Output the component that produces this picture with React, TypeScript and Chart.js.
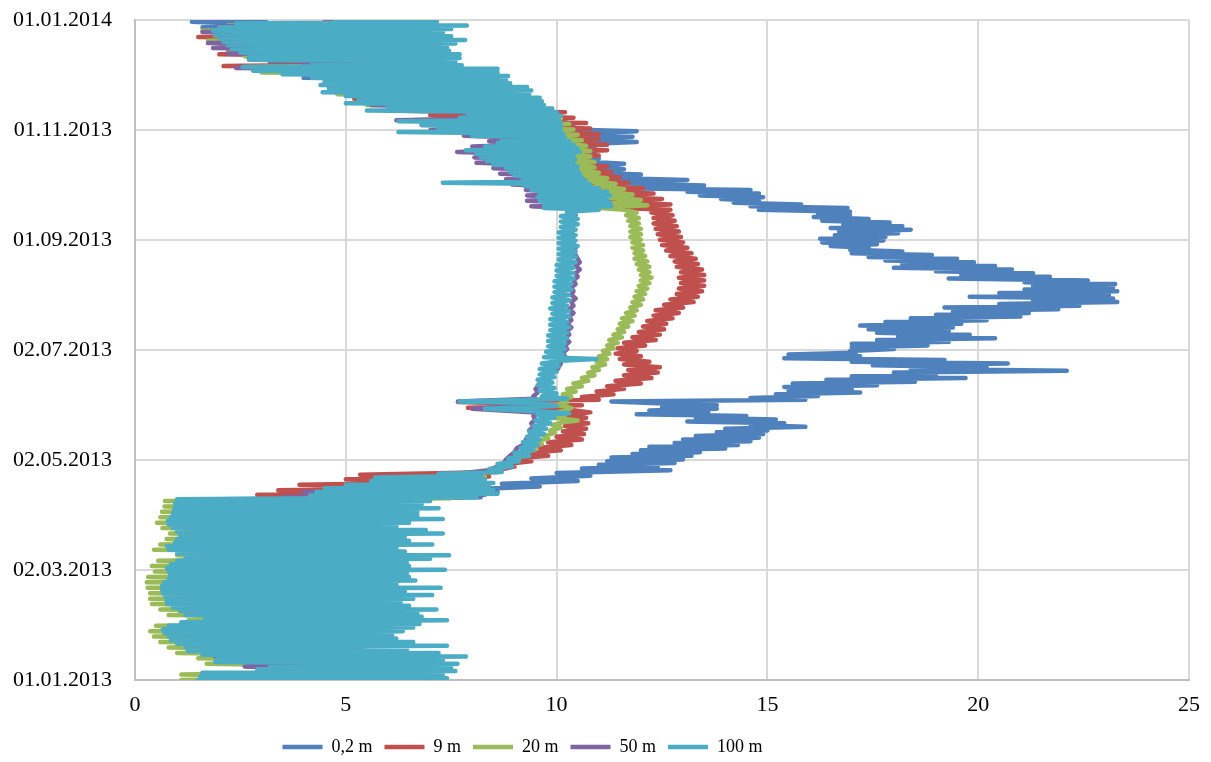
import React, { useEffect, useRef } from 'react';
import { Chart, registerables } from 'chart.js';

Chart.register(...registerables);

const seriesLabels = ['0,2 m', '9 m', '20 m', '50 m', '100 m'];
const seriesColors = ['#4F81BD', '#C0504D', '#9BBB59', '#8064A2', '#4BACC6'];
const dateTickDays = [0, 60.83, 121.67, 182.5, 243.33, 304.17, 365];
const dateTickLabels = ['01.01.2013', '02.03.2013', '02.05.2013', '02.07.2013', '01.09.2013', '01.11.2013', '01.01.2014'];
const tempMin = 0;
const tempMax = 25;
const tempStep = 5;

// [day since 01.01.2013, temperature °C]
const t02m: [number, number][] = [
  [0,2.0],[3,5.8],[6,3.5],[9,5.8],[12,2.2],[15,5.6],[18,1.8],[21,5.5],[24,1.5],[27,5.5],[30,1.5],[33,5.6],[36,1.6],[39,5.5],[42,1.5],[45,5.6],[48,1.4],[51,5.7],[54,1.4],[57,5.6],[60,1.5],[63,5.5],[66,1.6],[69,5.6],[72,1.6],[75,5.5],[78,1.5],[81,5.6],[84,1.5],[87,5.5],[90,1.6],[93,5.6],[96,1.7],[99,6.0],[100,2.0],
  [101,8.2],[102.5,7.0],[104,8.6],[105.5,8.0],[107,9.6],[108.5,8.7],[110,10.5],[111.5,9.4],[113,10.8],[114.5,10.0],[116,12.7],[117,10.6],[118,12.4],[119,11.0],[120,12.8],[121,11.2],[122,13.0],[123,11.3],[124,13.2],[125,11.8],[126,13.4],[127,12.0],[128,14.0],[129,12.2],[130,14.3],[131,12.8],[132,14.6],[133,13.0],[134,14.8],[135,13.3],[136,14.9],[137,13.8],[138,15.0],[139,14.0],[140,15.9],[141,14.6],[142,15.4],[143,13.1],[144,15.2],[145,13.3],[146,14.5],[147,11.9],[148,13.6],[149,12.2],[150,13.8],[151,12.5],[152,13.8],[153,12.4],[154,11.3],
  [155,15.9],[156,14.6],[157,16.2],[158,15.2],[159,17.2],[160,15.5],[161,17.0],[162,15.4],[163,17.6],[164,15.6],[165,18.5],[166,16.4],[167,19.7],[168,17.0],[169,19.0],[170,18.0],[171,22.1],[172,18.4],[173,20.2],[174,17.5],[175,20.7],[176,17.0],[177,19.2],[178,15.4],[179,17.2],[180,15.5],[181,17.1],[182,16.96],[183,18.0],[184,17.0],[185,18.8],[186,17.0],[187,19.3],[188,17.6],[189,20.4],[190,18.1],[191,19.8],[192,17.6],[193,19.3],[194,17.4],[195,19.4],[196,17.2],[197,19.6],[198,17.8],[199,20.2],[200,18.4],[201,21.0],[202,19.0],[203,21.2],[204,19.4],[205,21.9],[206,19.2],[207,22.4],[208,20.5],[209,23.3],[210,21.3],[211,23.2],[212,19.8],[213,23.1],[214,20.5],[215,23.3],[216,21.1],[217,23.2],[218,21.3],[219,23.25],[220,21.1],[221,22.6],[222,19.3],[223,21.7],[224,19.6],[225,21.3],[226,19.0],[227,20.8],[228,18.0],[229,20.4],[230,18.2],[231,19.9],[232,17.8],[233,19.5],[234,17.4],[235,18.9],[236,17.0],[237,18.2],[238,16.96],[239,17.4],[240,16.5],[241,17.6],[242,16.3],[243,17.75],[244,16.25],[245,17.8],[246,16.6],[247,18.1],[248,16.7],[249,18.4],[250,16.5],[251,18.2],[252,16.8],[253,17.9],[254,16.3],[255,17.4],[256,16.1],[257,16.96],[258,16.2],[259,16.96],[260,14.8],[261,16.9],[262,14.6],[263,15.8],[264,14.2],[265,14.8],[266,13.9],[267,14.9],
  [268,13.4],[269,14.8],[270,13.1],[271,14.6],[272,11.5],[273.5,13.5],[275,11.1],[276.5,13.1],[278,10.6],[279.5,12.0],[281,10.25],[282.5,11.6],[284,11.0],[285.5,11.6],[287,10.4],[288.5,11.0],[290,10.3],[291.5,10.9],[293,10.3],[294.5,10.9],[296,10.2],[297.5,11.9],[299,10.6],[300.5,11.8],[302,10.4],[303.5,11.9],
  [305,9.3],[306.5,10.4],[308,8.0],[309.5,10.2],[311,7.8],[313,9.8],[315,7.0],[317,9.4],[319,6.0],[321,9.2],[323,5.8],[325,9.0],[327,5.0],[329,8.8],[331,4.8],[332,8.5],[333,4.0],[335,8.3],[337,3.4],[339,7.4],[341.5,3.2],[343,7.2],[345,2.8],[347,7.0],[349,2.4],[351,7.0],[353,2.2],[355,7.0],[357,2.0],[359,6.8],[361,1.6],[362.5,3.0],[364,1.35],[365,3.1],
];

const t9m: [number, number][] = [
  [0,1.6],[2.5,6.0],[5,3.0],[6.5,5.5],[7.5,2.65],[9.5,6.2],[12,2.0],[15,5.8],[18,1.6],[21,5.6],[24,1.3],[27,5.6],[30,1.3],[33,5.8],[36,1.4],[39,5.6],[42,1.3],[45,5.7],[48,1.2],[51,5.8],[54,1.2],[57,5.6],[60,1.3],[63,5.6],[66,1.4],[69,5.8],[72,1.3],[75,5.6],[78,1.3],[81,5.7],[84,1.3],[87,5.6],[90,1.3],[93,5.6],[96,1.4],[99,6.0],[100,1.6],
  [101,7.8],[102.5,2.9],[104,8.3],[105,3.4],[106.5,8.4],[108,3.9],[109.5,8.3],[111,5.0],[112.5,8.4],[113.5,5.34],
  [115,8.6],[116.5,8.7],[118,9.0],[119.5,8.8],[121,9.4],[122.5,9.0],[124,9.8],[125.5,9.3],[127,10.1],[128.5,9.6],[130,10.35],[131.5,9.8],[133,10.6],[134.5,10.0],[136,10.65],[137.5,10.15],[139,10.7],[140.5,10.2],[142,10.75],[143.5,10.15],[145,10.7],[146.5,10.2],[148,10.8],[149.5,10.3],[150.5,7.9],[152,10.6],[153.8,7.66],[155,11.0],[156.5,10.6],[158,11.35],[159.5,10.95],[161,11.6],[162.5,11.2],[164,12.0],[165.5,11.4],[167,12.25],[168.5,11.6],[170,12.4],[171.5,11.7],[173,12.45],[174.5,11.6],[176,12.2],[177.5,11.5],[179,12.0],[180.5,11.4],[182,11.9],[183.5,11.45],[185,12.1],[186.5,11.6],[188,12.35],[189.5,11.8],[191,12.45],[192.5,11.95],[194,12.55],[195.5,12.05],[197,12.6],[198.5,12.15],[200,12.75],[201.5,12.3],[203,12.9],[204.5,12.35],[206,13.0],[207.5,12.55],[209,13.25],[210.5,12.7],[212,13.35],[213.5,12.85],[215,13.45],[216.5,12.9],[218,13.5],[219.5,12.95],[221,13.5],[222.5,12.9],[224,13.5],[225.5,12.95],[227,13.45],[228.5,12.85],[230,13.35],[231.5,12.8],[233,13.3],[234.5,12.7],[236,13.2],[237.5,12.6],[239,13.1],[240.5,12.5],[242,13.0],[243.5,12.45],[245,12.95],[246.5,12.4],[248,12.9],[249.5,12.35],[251,12.85],[252.5,12.3],[254,12.8],[255.5,12.3],[257,12.75],[258.5,12.25],[260,12.7],
  [261.5,10.9],[263,12.7],[264.5,11.2],[266,12.5],[267.5,11.0],[269,12.3],[270.5,10.8],[272,12.05],[273.5,10.5],[275,11.7],[276.5,10.4],[278,11.5],[279.5,10.2],[281,11.3],[282.5,10.0],[284,11.2],[285.5,9.8],[287,10.8],[288.5,9.6],[290,11.0],[291.5,9.5],[293,11.2],[294.5,9.3],[296,11.2],[297.5,9.0],[299,11.0],[300.5,8.8],[302,11.0],[303.5,8.0],[305,10.8],[306.5,7.5],[308,10.7],[309.5,6.5],[311,10.4],[312.5,7.0],[314,10.2],[315.5,6.0],[317,9.6],[318.5,5.6],[320,9.4],[321.5,5.2],[323,9.2],[324.5,5.0],[326,9.0],[327.5,4.6],[329,8.8],[330.5,4.5],[332,8.6],[333.5,4.3],[335,8.4],[336.5,3.0],[338,7.6],[339.5,2.1],[341,7.5],[342,4.0],[344,7.4],[346,2.0],[347.5,7.2],[349,2.3],[350.5,7.2],[352,2.2],[353.5,7.1],[355.6,1.5],[357,7.0],[358.5,2.0],[360,7.0],[361.5,2.3],[363,6.8],[365,4.5],
];

const t20m: [number, number][] = [
  [0,1.1],[1.5,5.5],[3,1.1],[4.5,5.5],[6,2.9],[7.5,5.6],[9,1.7],[10.5,5.6],[12,1.5],[13.5,5.5],[15,1.0],[16.5,5.4],[18,0.8],[19.5,5.4],[21,0.6],[22.5,5.3],[24,0.45],[25.5,5.3],[27,0.36],[28.5,5.3],[30,0.5],[31.5,5.5],[33,1.27],[34.5,5.5],[36,0.8],[37.5,5.4],[39,0.6],[40.5,5.3],[42,0.4],[43.5,5.3],[45,0.36],[46.5,5.3],[48,0.36],[49.5,5.4],[51,0.3],[52.5,5.3],[54,0.28],[55.5,5.3],[57,0.31],[58.5,5.3],[60,0.47],[61.5,5.4],[63,0.4],[64.5,5.3],[66,0.55],[67.5,5.4],[69,1.0],[70.5,5.4],[72,0.45],[73.5,5.3],[75,0.6],[76.5,5.3],[78,0.75],[79.5,5.4],[81,0.83],[82.5,5.4],[84,0.65],[85.5,5.3],[87,0.52],[88.5,5.4],[90,0.6],[91.5,5.4],[93,0.64],[94.5,5.4],[96,0.7],[97.5,5.5],[99,0.71],
  [100.5,7.5],[102,4.8],[103.5,8.4],[105,5.0],[106.5,8.3],[108,6.0],[109.5,8.2],[111,6.5],[112.5,8.3],[114,7.6],
  [115.5,8.55],[117,8.45],[118.5,8.85],[120,8.8],[121.5,9.1],[123,9.05],[124.5,9.3],[126,9.25],[127.5,9.5],[129,9.4],[130.5,9.65],[132,9.5],[133.5,9.8],[135,9.7],[136.5,9.95],[138,9.85],[139.5,10.1],[141,9.9],[142.5,10.15],[143.5,10.5],[145,9.95],[146.5,10.2],[148,10.0],[149.5,10.25],[150.5,10.35],[152,10.0],[153.5,10.25],[155,10.1],[156.5,10.35],[158,10.15],[159.5,10.45],[161,10.25],[162.5,10.6],[164,10.4],[165.5,10.75],[167,10.6],[168.5,10.9],[170,10.75],[171.5,11.0],[173,10.85],[174.5,11.15],[176,10.95],[177.5,11.2],[179,11.0],[180.5,11.25],[182,11.1],[183.5,11.35],[185,11.2],[186.5,11.45],[188,11.25],[189.5,11.55],[191,11.35],[192.5,11.6],[194,11.45],[195.5,11.7],[197,11.5],[198.5,11.8],[200,11.55],[201.5,11.85],[203,11.65],[204.5,11.9],[206,11.75],[207.5,12.0],[209,11.8],[210.5,12.05],[212,11.85],[213.5,12.1],[215,11.9],[216.5,12.15],[218,11.95],[219.5,12.2],[221,12.0],[222.5,12.25],[224,12.0],[225.5,12.2],[227,11.95],[228.5,12.2],[230,11.9],[231.5,12.15],[233,11.85],[234.5,12.1],[236,11.85],[237.5,12.05],[239,11.8],[240.5,12.05],[242,11.8],[243.5,12.0],[245,11.75],[246.5,12.0],[248,11.75],[249.5,12.0],[251,11.75],[252.5,11.95],[254,11.7],[255.5,11.95],[257,11.65],[258.5,11.9],[260,11.6],
  [261,11.0],[262.5,12.15],[264,11.3],[265.5,12.0],[267,11.2],[268.5,11.8],[270,11.0],[271.5,11.6],[273,10.9],[274.5,11.4],[276,10.7],[277.5,11.2],[279,10.5],[280.5,11.0],[282,10.4],[283.5,10.9],[285,10.3],[286.5,10.9],[288,10.2],[289.5,10.8],[291,10.1],[292.5,10.8],[294,10.0],[295.5,10.7],[297,9.8],[298.5,10.6],[300,9.5],[301.5,10.5],[303,8.5],[304.5,10.4],[306,7.5],[307.5,10.3],[309,7.0],[310.5,10.1],[312,7.8],[313.5,9.9],[315,6.0],[316.5,9.6],[318,5.5],[319.5,9.4],[321,5.5],[322.5,9.2],[324,4.8],[325.5,9.0],[327,4.8],[328.5,8.9],[330,4.6],[331.5,8.6],[333,4.4],[334.5,8.4],[336,3.0],[337.5,8.0],[339,2.6],[340.5,7.3],[342,4.1],[343.5,7.2],[345,2.6],[346.5,7.2],[348,2.2],[349.5,7.0],[351,2.0],[352.5,7.2],[353.5,1.73],[355,7.3],[356.5,1.9],[358,7.0],[359,1.6],[360.5,7.2],[362,2.2],[363.5,6.8],[365,5.0],
];

const t50m: [number, number][] = [
  [0,1.6],[1.5,5.8],[3,2.0],[6,5.6],[7.5,2.6],[10,5.8],[13,1.9],[16,5.5],[19,1.4],[22,5.4],[25,1.1],[28,5.5],[31,1.1],[34,5.6],[37,1.3],[40,5.5],[43,1.1],[46,5.4],[49,1.0],[52,5.6],[55,1.0],[58,5.4],[61,1.1],[64,5.5],[67,1.3],[70,5.6],[73,1.1],[76,5.5],[79,1.2],[82,5.6],[85,1.1],[88,5.5],[91,1.2],[94,5.6],[97,1.2],[100,6.0],
  [101,3.5],[102.5,8.3],[104,4.0],[105.5,8.2],[107,5.2],[108.5,8.3],[110,6.0],[111.5,8.1],[113,8.2],[114.5,7.8],[116,8.4],[118,8.6],[120,8.75],[122,8.8],[124,8.9],[126,9.0],[128,9.05],[130,9.2],[132,9.25],[134,9.3],[136,9.4],[138,9.35],[140,9.45],[142,9.4],[144,9.5],[146,9.45],[148,9.5],[150,8.0],[151.5,9.5],[153,9.4],[154,7.66],[155.5,9.5],[157,9.45],[159,9.55],[161,9.5],[163,9.6],[165,9.6],[167,9.75],[169,9.85],[171,10.0],[173,10.05],[175,10.1],[177,10.1],[179,10.2],[181,10.15],[183,10.25],[185,10.2],[187,10.3],[189,10.2],[191,10.3],[193,10.25],[195,10.35],[197,10.25],[199,10.35],[201,10.3],[203,10.4],[205,10.3],[207,10.4],[209,10.35],[211,10.45],[213,10.35],[215,10.4],[217,10.35],[219,10.45],[221,10.4],[223,10.5],[225,10.45],[227,10.55],[229,10.45],[231,10.55],[233,10.5],[235,10.45],[237,10.4],[239,10.45],[241,10.4],[243,10.35],[245,10.4],[247,10.35],[249,10.4],[251,10.35],[253,10.4],[255,10.35],[257,10.45],[259,10.35],
  [260.5,10.6],[262,9.4],[263.5,10.8],[265,9.3],[266.5,10.8],[268,9.3],[269.5,10.8],[271,9.27],[272.5,10.6],[274,8.95],[275.5,10.4],[277,8.8],[278.5,10.3],[280,8.66],[281.5,10.2],[283,8.5],[284.5,10.1],[286,8.1],[287.5,10.1],[289,8.05],[290.5,10.0],[292,7.64],[293.5,10.0],[295,8.0],[296.5,9.9],[298,8.4],[299.5,9.8],[301,7.8],[302.5,9.8],[304,7.0],[305.5,9.6],[307,6.8],[308.5,9.5],[309.5,6.2],[311,9.5],[312,7.8],[313.5,9.4],[315,6.0],[316.5,9.2],[318,5.6],[319.5,9.0],[321,5.6],[322.5,8.9],[324,5.0],[325.5,8.8],[327,4.9],[328.5,8.7],[330,4.7],[331.5,8.4],[333,4.5],[334.5,8.2],[336,3.6],[337.5,8.0],[338.5,2.4],[340,7.3],[341,4.0],[342.5,7.2],[344,2.7],[345.5,7.2],[346.5,2.2],[348,7.0],[349.5,1.85],[351,7.0],[352.3,1.73],[354,7.2],[355.5,2.0],[357,7.0],[358.4,1.6],[360,7.1],[361.5,2.0],[363,6.8],[364,4.67],[365,6.5],
];

const t100m: [number, number][] = [
  [0,1.5],[1,7.4],[2,1.55],[3,7.3],[4,1.6],[5,7.6],[6,2.9],[7,7.5],[8,3.2],[9,7.65],[10,1.9],[11,7.3],[12,1.95],[13,7.85],[14,1.6],[15,7.2],[16,1.25],[17,6.45],[18,1.2],[19,7.4],[20,1.0],[21,6.6],[22,0.85],[23,6.2],[24,0.8],[25,6.1],[26,0.7],[27,6.35],[28,0.66],[29,6.6],[30,0.8],[31,6.75],[32,1.1],[33,7.4],[34,1.66],[35,6.8],[36,1.2],[37,6.7],[38,1.07],[39,7.15],[40,0.9],[41,6.5],[42,0.76],[43,6.3],[44,0.75],[45,6.6],[46,0.72],[47,7.05],[48,0.66],[49,6.4],[50,0.64],[51,7.25],[52,0.64],[53,6.2],[54,0.7],[55,6.65],[56,0.8],[57,6.5],[58,0.83],[59,6.45],[60,0.8],[61,7.35],[62,0.76],[63,6.5],[64,0.85],[65,6.45],[66,1.0],[67,7.0],[68,1.2],[69,7.45],[70,1.0],[71,6.4],[72,0.8],[73,6.2],[74,0.76],[75,7.05],[76,0.95],[77,6.5],[78,1.0],[79,6.4],[80,1.07],[81,7.3],[82,1.0],[83,6.9],[84,0.9],[85,6.2],[86,0.8],[87,6.5],[88,0.78],[89,7.3],[90,0.85],[91,6.7],[92,0.9],[93,6.7],[94,0.92],[95,7.2],[96,0.95],[97,6.8],[98,0.95],[99,7.0],[100,1.0],
  [101,8.1],[102,4.15],[103,8.6],[104,4.3],[105,8.5],[106,4.5],[107,8.4],[108,5.0],[109,8.5],[110,5.6],[111,8.3],[112,5.7],[113,8.2],[114,7.2],
  [115,8.7],[116.5,8.4],[118,8.95],[119.5,8.6],[121,9.1],[122.5,8.85],[124,9.35],[125.5,9.0],[127,9.45],[128.5,9.15],[130,9.55],[131.5,9.2],[133,9.6],[134.5,9.3],[136,9.7],[137.5,9.35],[139,9.75],[140.5,9.45],[142,9.85],[143.5,9.5],[145,9.95],[146.5,9.55],[147.5,10.3],[148.5,9.6],[150,8.3],[151.5,10.0],[153,9.6],[154,7.7],[155.5,10.25],[157,9.65],[158.5,10.0],[160,9.6],[161.5,9.95],[163,9.55],[164.5,9.9],[166,9.55],[167.5,9.95],[169,9.6],[170.5,10.0],[172,9.6],[173.5,10.05],[175,9.65],[176.5,10.1],[177.5,10.95],[178.5,9.7],[180,10.15],[181.5,9.75],[183,10.2],[184.5,9.8],[186,10.2],[187.5,9.8],[189,10.25],[190.5,9.8],[192,10.25],[193.5,9.85],[195,10.3],[196.5,9.85],[198,10.25],[199.5,9.85],[201,10.3],[202.5,9.9],[204,10.3],[205.5,9.85],[207,10.25],[208.5,9.9],[210,10.3],[211.5,9.9],[213,10.3],[214.5,9.95],[216,10.35],[217.5,9.95],[219,10.35],[220.5,9.95],[222,10.4],[223.5,10.0],[225,10.4],[226.5,10.0],[228,10.4],[229.5,10.0],[231,10.45],[232.5,10.05],[234,10.45],[235.5,10.05],[237,10.45],[238.5,10.05],[240,10.5],[241.5,10.05],[243,10.45],[244.5,10.05],[246,10.45],[247.5,10.05],[249,10.45],[250.5,10.1],[252,10.5],[253.5,10.1],[255,10.5],[256.5,10.1],[258,10.45],
  [259,10.25],[260,11.0],[261,9.7],[262,11.3],[263,9.7],[264,11.27],[265,9.6],[266,11.2],[267,9.55],[268,11.27],[269,9.6],[270,11.2],[271,9.4],[272,11.0],[273,9.25],[274,10.8],[275,7.3],[276,10.7],[277,9.2],[278,10.6],[279,9.0],[280,10.55],[281,8.9],[282,10.5],[283,8.8],[284,10.5],[285,8.5],[286,10.4],[287,8.35],[288,10.45],[289,8.2],[290,10.4],[291,8.1],[292,10.55],[293,7.85],[294,10.5],[295,8.3],[296,10.4],[297,8.6],[298,10.3],[299,8.7],[300,10.2],[301,8.0],[302,10.15],[303,6.25],[304,10.1],[305,7.2],[306,10.1],[307,6.8],[308,10.1],[309,6.25],[310,10.05],[311,7.7],[312,10.1],[313,7.9],[314,10.0],[315,5.5],[316,9.9],[317,6.0],[318,9.7],[319,5.0],[320,9.65],[321,5.3],[322,9.6],[323,5.0],[324,9.35],[325,4.45],[326,9.4],[327,4.6],[328,9.3],[329,4.4],[330,8.9],[331,4.5],[332,8.8],[333,4.2],[334,8.85],[335,3.5],[336,8.6],[337,2.8],[338,8.6],[339,2.55],[340,7.75],[341,4.2],[342,7.6],[343,2.7],[344,7.7],[345,2.7],[346,7.7],[347,2.5],[348,7.45],[349,2.3],[350,7.4],[351,2.2],[352,7.6],[353,2.1],[354,7.83],[355,2.0],[356,7.5],[357,1.9],[358,7.3],[359,1.85],[360,7.5],[361,2.0],[362,7.87],[363,2.4],[364,7.16],[365,4.74],
];

const seriesData = [t02m, t9m, t20m, t50m, t100m];

const legendShift = {
  id: 'legendShift',
  afterLayout(chart: any) {
    const l = chart.legend;
    if (!l) return;
    l.left -= 72;
    l.right -= 72;
    l.top += 4;
    l.bottom += 4;
  },
};

export default function App() {
  const ref = useRef<HTMLCanvasElement>(null);

  useEffect(() => {
    if (!ref.current) return;
    Chart.defaults.font.family = "'Liberation Serif', 'Times New Roman', serif";
    const chart = new Chart(ref.current, {
      type: 'scatter',
      data: {
        datasets: seriesData.map((s, i) => ({
          label: seriesLabels[i],
          data: s.map(([d, t]) => ({ x: t, y: d })),
          showLine: true,
          borderColor: seriesColors[i],
          backgroundColor: seriesColors[i],
          borderWidth: 4.5,
          pointRadius: 0,
          pointHoverRadius: 0,
          borderCapStyle: 'round',
          borderJoinStyle: 'round',
          order: seriesData.length - 1 - i,
        })),
      },
      options: {
        responsive: false,
        animation: false,
        events: [],
        layout: { padding: { top: 20, right: 22, left: 0, bottom: 0 } },
        scales: {
          x: {
            type: 'linear',
            min: tempMin,
            max: tempMax,
            ticks: { stepSize: tempStep, color: '#000', font: { size: 22 }, padding: 0 },
            grid: { color: '#D9D9D9', lineWidth: 2, drawTicks: true, tickLength: 12, tickColor: 'rgba(0,0,0,0)' },
            border: { color: '#BFBFBF', width: 2 },
            afterFit: (s: any) => { s.height = 42; },
          },
          y: {
            type: 'linear',
            min: 0,
            max: 365,
            afterBuildTicks: (s: any) => { s.ticks = dateTickDays.map((v) => ({ value: v })); },
            ticks: {
              autoSkip: false,
              color: '#000',
              font: { size: 22 },
              padding: 0,
              callback: (_v: any, i: number) => dateTickLabels[i],
            },
            grid: { color: '#D9D9D9', lineWidth: 2, drawTicks: true, tickLength: 23, tickColor: 'rgba(0,0,0,0)' },
            border: { color: '#BFBFBF', width: 2 },
            afterFit: (s: any) => { s.width = 135; },
          },
        },
        plugins: {
          tooltip: { enabled: false },
          legend: {
            position: 'bottom',
            labels: {
              usePointStyle: true,
              pointStyle: 'line',
              pointStyleWidth: 40,
              color: '#000',
              font: { size: 18 },
              padding: 12,
              sort: (a: any, b: any) => a.datasetIndex - b.datasetIndex,
            },
          },
        },
      } as any,
      plugins: [legendShift],
    });
    return () => chart.destroy();
  }, []);

  return (
    <div style={{ position: 'fixed', left: 0, top: 0, width: 1211, height: 762, background: '#fff' }}>
      <canvas ref={ref} width={1211} height={762} />
    </div>
  );
}
